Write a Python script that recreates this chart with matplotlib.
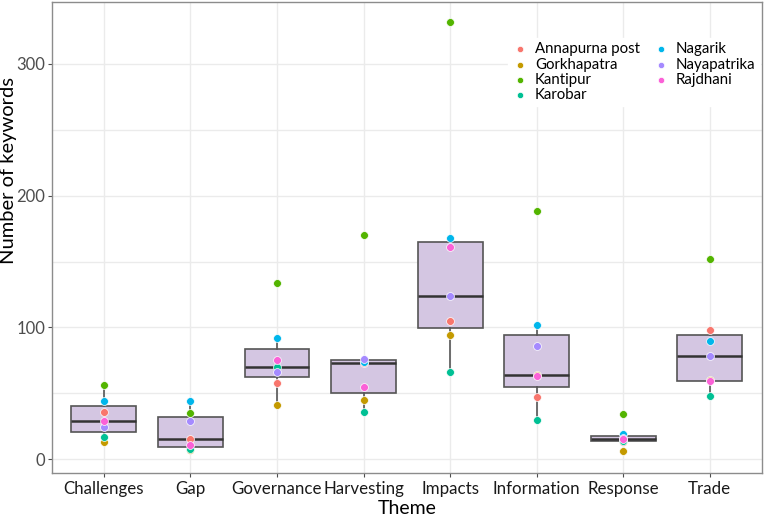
import numpy as np
import matplotlib
matplotlib.use("Agg")
from matplotlib import pyplot as plt

themes = ["Challenges", "Gap", "Governance", "Harvesting", "Impacts",
          "Information", "Response", "Trade"]
papers = ["Annapurna post", "Gorkhapatra", "Kantipur", "Karobar",
          "Nagarik", "Nayapatrika", "Rajdhani"]

annapurna = [36, 15, 58, 73, 105, 47, 13, 98]
gorkhapatra = [13, 7, 41, 45, 94, 64, 6, 60]
kantipur = [56, 35, 134, 170, 332, 188, 34, 152]
karobar = [17, 8, 70, 36, 66, 30, 14, 48]
nagarik = [44, 44, 92, 74, 168, 102, 19, 90]
nayapatrika = [24, 29, 66, 76, 124, 86, 16, 78]
rajdhani = [29, 11, 75, 55, 161, 63, 15, 59]

series = [annapurna, gorkhapatra, kantipur, karobar, nagarik, nayapatrika, rajdhani]
colors = ["#F8766D", "#C49A00", "#53B400", "#00C094", "#00B6EB", "#A58AFF", "#FB61D7"]

plt.rcParams['font.family'] = ['Lato', 'DejaVu Sans']

fig = plt.figure(figsize=(7.64, 5.17), dpi=100)
ax = fig.add_axes([0.068, 0.085, 0.929, 0.911])

data = np.array(series)
pos = np.arange(1, len(themes) + 1)

ax.boxplot([data[:, i] for i in range(len(themes))], positions=pos, widths=0.75,
           whis=1.5, showfliers=False, patch_artist=True,
           boxprops=dict(facecolor="#d4c6e2", edgecolor="#555555", linewidth=1.2),
           whiskerprops=dict(color="#555555", linewidth=1.2),
           capprops=dict(linewidth=0),
           medianprops=dict(color="#333333", linewidth=1.8),
           zorder=2)

for name, vals, c in zip(papers, series, colors):
    ax.scatter(pos, vals, s=32, color=c, edgecolors="white", linewidths=0.5,
               zorder=3, label=name)

ax.set_xlim(0.4, 8.6)
ax.set_ylim(-10.6, 347)
ax.set_xticks(pos)
ax.set_xticklabels(themes, fontsize=12.2, color="#1a1a1a")
ax.set_yticks([0, 100, 200, 300])
ax.set_yticks([50, 150, 250], minor=True)
ax.tick_params(axis='y', labelsize=12, labelcolor="#4d4d4d", color="#4d4d4d", length=3, pad=2)
ax.tick_params(axis='x', color="#4d4d4d", length=3, pad=3)
ax.tick_params(which='minor', length=0)
ax.grid(True, which='both', color="#ebebeb", linewidth=1)
ax.set_axisbelow(True)
for sp in ax.spines.values():
    sp.set_color("#8c8c8c")
    sp.set_linewidth(1)

ax.set_xlabel("Theme", fontsize=14, labelpad=2)
ax.set_ylabel("Number of keywords", fontsize=14.5, va="center")
ax.yaxis.set_label_coords(-0.061, 0.643)

leg = ax.legend(loc="upper right", bbox_to_anchor=(1.008, 0.94), ncol=2, frameon=True,
                fontsize=10.8, handletextpad=0.5, columnspacing=0.9, labelspacing=0.08,
                markerscale=0.8, borderpad=0.3, handlelength=1.0)
leg.get_frame().set_edgecolor("white")
leg.get_frame().set_facecolor("white")
leg.get_frame().set_alpha(1)

fig.savefig("out.png", dpi=100)
